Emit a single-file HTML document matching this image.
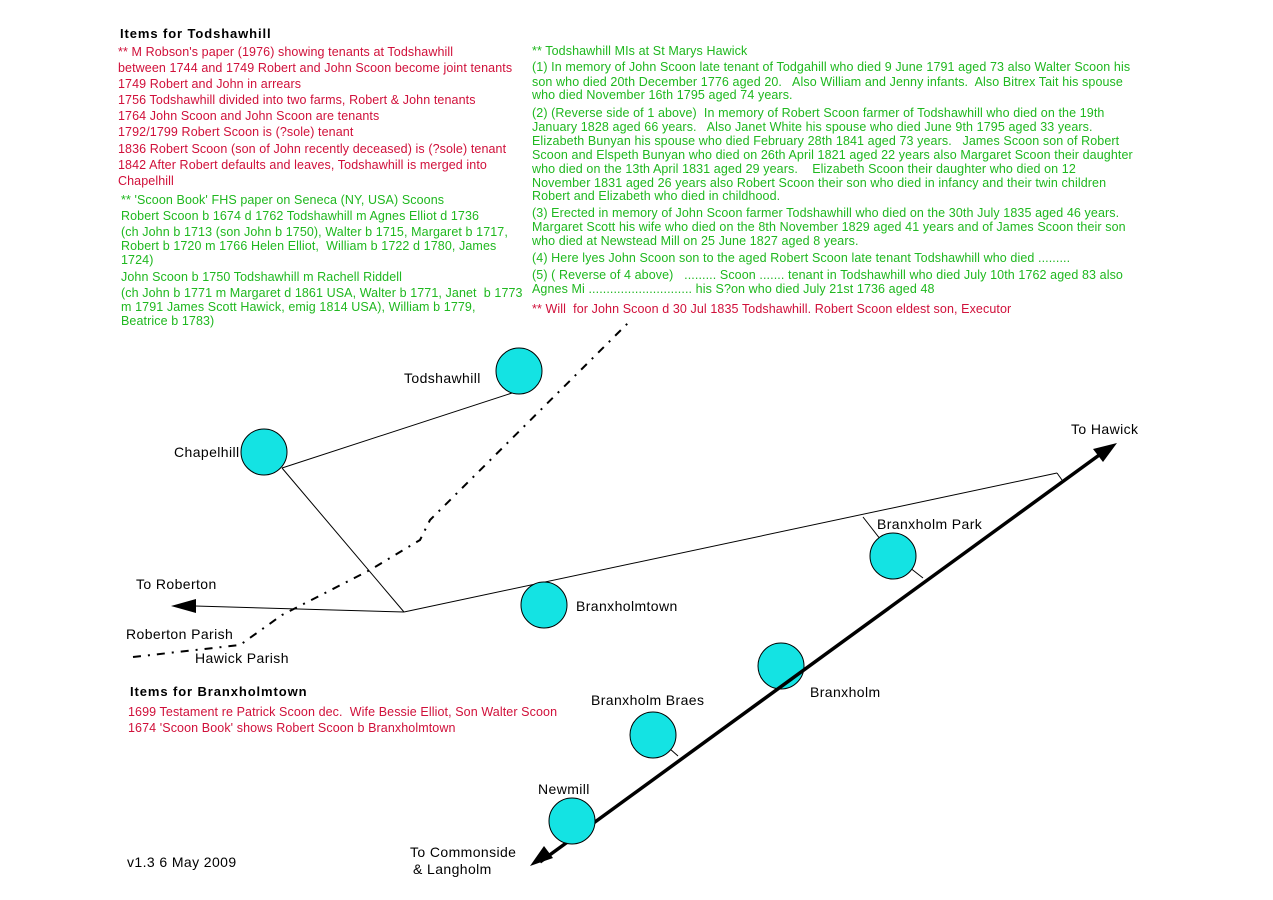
<!DOCTYPE html>
<html><head><meta charset="utf-8"><style>
body{margin:0;background:#fff;width:1273px;height:900px;position:relative;overflow:hidden;font-family:"Liberation Sans",Arial,sans-serif}
.t{position:absolute;white-space:nowrap;font-size:12.5px;line-height:14px;letter-spacing:0.1px}
.r{color:#d0103a}.g{color:#1fb81f}
.l{position:absolute;white-space:nowrap;font-size:14px;line-height:16px;color:#000;letter-spacing:0.4px}
.b{position:absolute;white-space:nowrap;font-size:13px;font-weight:bold;color:#000;letter-spacing:0.9px}
svg{position:absolute;left:0;top:0}
</style></head><body>
<svg width="1273" height="900">
<g stroke="#000" stroke-width="1" fill="none">
<line x1="512" y1="393" x2="282" y2="468"/>
<line x1="282" y1="468" x2="404" y2="612"/>
<line x1="404" y1="612" x2="1057" y2="473"/>
<line x1="1057" y1="473" x2="1062" y2="480"/>
<line x1="404" y1="612" x2="195" y2="606"/>
<polyline points="863,517 891,553 923,578"/>
<line x1="661" y1="741" x2="678" y2="756"/>
<polyline points="133,657 240,645 282,615 370,570 420,540 430,520 628,323" stroke-width="2" stroke-dasharray="8,7,2,7"/>
</g>
<polygon points="171,606 196,599 196,613" fill="#000"/>
<g fill="#14e3e3" stroke="#000" stroke-width="1">
<circle cx="519" cy="371" r="23"/>
<circle cx="264" cy="452" r="23"/>
<circle cx="544" cy="605" r="23"/>
<circle cx="893" cy="556" r="23"/>
<circle cx="781" cy="666" r="23"/>
<circle cx="653" cy="735" r="23"/>
</g>
<line x1="540" y1="862" x2="1102" y2="453" stroke="#000" stroke-width="3.5"/>
<polygon points="1117,443 1093,449 1103,462" fill="#000"/>
<polygon points="530,866 553,858 544,846" fill="#000"/>
<circle cx="572" cy="821" r="23" fill="#14e3e3" stroke="#000"/>
</svg>
<div class="b" style="left:120px;top:26px">Items for Todshawhill</div>
<div class="t r" style="left:118px;top:45px">** M Robson's paper (1976) showing tenants at Todshawhill</div>
<div class="t r" style="left:118px;top:61px">between 1744 and 1749 Robert and John Scoon become joint tenants</div>
<div class="t r" style="left:118px;top:77px">1749 Robert and John in arrears</div>
<div class="t r" style="left:118px;top:93px">1756 Todshawhill divided into two farms, Robert &amp; John tenants</div>
<div class="t r" style="left:118px;top:109px">1764 John Scoon and John Scoon are tenants</div>
<div class="t r" style="left:118px;top:125px">1792/1799 Robert Scoon is (?sole) tenant</div>
<div class="t r" style="left:118px;top:142px">1836 Robert Scoon (son of John recently deceased) is (?sole) tenant</div>
<div class="t r" style="left:118px;top:158px">1842 After Robert defaults and leaves, Todshawhill is merged into</div>
<div class="t r" style="left:118px;top:174px">Chapelhill</div>
<div class="t g" style="left:121px;top:193px">** 'Scoon Book' FHS paper on Seneca (NY, USA) Scoons</div>
<div class="t g" style="left:121px;top:209px">Robert Scoon b 1674 d 1762 Todshawhill m Agnes Elliot d 1736</div>
<div class="t g" style="left:121px;top:225px">(ch John b 1713 (son John b 1750), Walter b 1715, Margaret b 1717,</div>
<div class="t g" style="left:121px;top:239px">Robert b 1720 m 1766 Helen Elliot,&nbsp; William b 1722 d 1780, James</div>
<div class="t g" style="left:121px;top:253px">1724)</div>
<div class="t g" style="left:121px;top:270px">John Scoon b 1750 Todshawhill m Rachell Riddell</div>
<div class="t g" style="left:121px;top:286px">(ch John b 1771 m Margaret d 1861 USA, Walter b 1771, Janet&nbsp; b 1773</div>
<div class="t g" style="left:121px;top:300px">m 1791 James Scott Hawick, emig 1814 USA), William b 1779,</div>
<div class="t g" style="left:121px;top:314px">Beatrice b 1783)</div>

<div class="t g" style="left:532px;top:44px">** Todshawhill MIs at St Marys Hawick</div>
<div class="t g" style="left:532px;top:60px">(1) In memory of John Scoon late tenant of Todgahill who died 9 June 1791 aged 73 also Walter Scoon his</div>
<div class="t g" style="left:532px;top:75px">son who died 20th December 1776 aged 20.&nbsp;&nbsp; Also William and Jenny infants.&nbsp; Also Bitrex Tait his spouse</div>
<div class="t g" style="left:532px;top:88px">who died November 16th 1795 aged 74 years.</div>
<div class="t g" style="left:532px;top:106px">(2) (Reverse side of 1 above)&nbsp; In memory of Robert Scoon farmer of Todshawhill who died on the 19th</div>
<div class="t g" style="left:532px;top:120px">January 1828 aged 66 years.&nbsp;&nbsp; Also Janet White his spouse who died June 9th 1795 aged 33 years.</div>
<div class="t g" style="left:532px;top:134px">Elizabeth Bunyan his spouse who died February 28th 1841 aged 73 years.&nbsp;&nbsp; James Scoon son of Robert</div>
<div class="t g" style="left:532px;top:148px">Scoon and Elspeth Bunyan who died on 26th April 1821 aged 22 years also Margaret Scoon their daughter</div>
<div class="t g" style="left:532px;top:162px">who died on the 13th April 1831 aged 29 years.&nbsp;&nbsp;&nbsp; Elizabeth Scoon their daughter who died on 12</div>
<div class="t g" style="left:532px;top:176px">November 1831 aged 26 years also Robert Scoon their son who died in infancy and their twin children</div>
<div class="t g" style="left:532px;top:189px">Robert and Elizabeth who died in childhood.</div>
<div class="t g" style="left:532px;top:206px">(3) Erected in memory of John Scoon farmer Todshawhill who died on the 30th July 1835 aged 46 years.</div>
<div class="t g" style="left:532px;top:220px">Margaret Scott his wife who died on the 8th November 1829 aged 41 years and of James Scoon their son</div>
<div class="t g" style="left:532px;top:234px">who died at Newstead Mill on 25 June 1827 aged 8 years.</div>
<div class="t g" style="left:532px;top:251px">(4) Here lyes John Scoon son to the aged Robert Scoon late tenant Todshawhill who died .........</div>
<div class="t g" style="left:532px;top:268px">(5) ( Reverse of 4 above)&nbsp;&nbsp; ......... Scoon ....... tenant in Todshawhill who died July 10th 1762 aged 83 also</div>
<div class="t g" style="left:532px;top:282px">Agnes Mi ............................. his S?on who died July 21st 1736 aged 48</div>
<div class="t r" style="left:532px;top:302px">** Will&nbsp; for John Scoon d 30 Jul 1835 Todshawhill. Robert Scoon eldest son, Executor</div>

<div class="l" style="left:404px;top:370px">Todshawhill</div>
<div class="l" style="left:174px;top:444px">Chapelhill</div>
<div class="l" style="left:136px;top:576px">To Roberton</div>
<div class="l" style="left:126px;top:626px">Roberton Parish</div>
<div class="l" style="left:195px;top:650px">Hawick Parish</div>
<div class="l" style="left:576px;top:598px">Branxholmtown</div>
<div class="l" style="left:877px;top:516px">Branxholm Park</div>
<div class="l" style="left:810px;top:684px">Branxholm</div>
<div class="l" style="left:591px;top:692px">Branxholm Braes</div>
<div class="l" style="left:538px;top:781px">Newmill</div>
<div class="l" style="left:410px;top:844px">To Commonside</div>
<div class="l" style="left:413px;top:861px">&amp; Langholm</div>
<div class="l" style="left:1071px;top:421px">To Hawick</div>
<div class="l" style="left:127px;top:854px">v1.3 6 May 2009</div>
<div class="b" style="left:130px;top:684px">Items for Branxholmtown</div>
<div class="t r" style="left:128px;top:705px">1699 Testament re Patrick Scoon dec.&nbsp; Wife Bessie Elliot, Son Walter Scoon</div>
<div class="t r" style="left:128px;top:721px">1674 'Scoon Book' shows Robert Scoon b Branxholmtown</div>
</body></html>
